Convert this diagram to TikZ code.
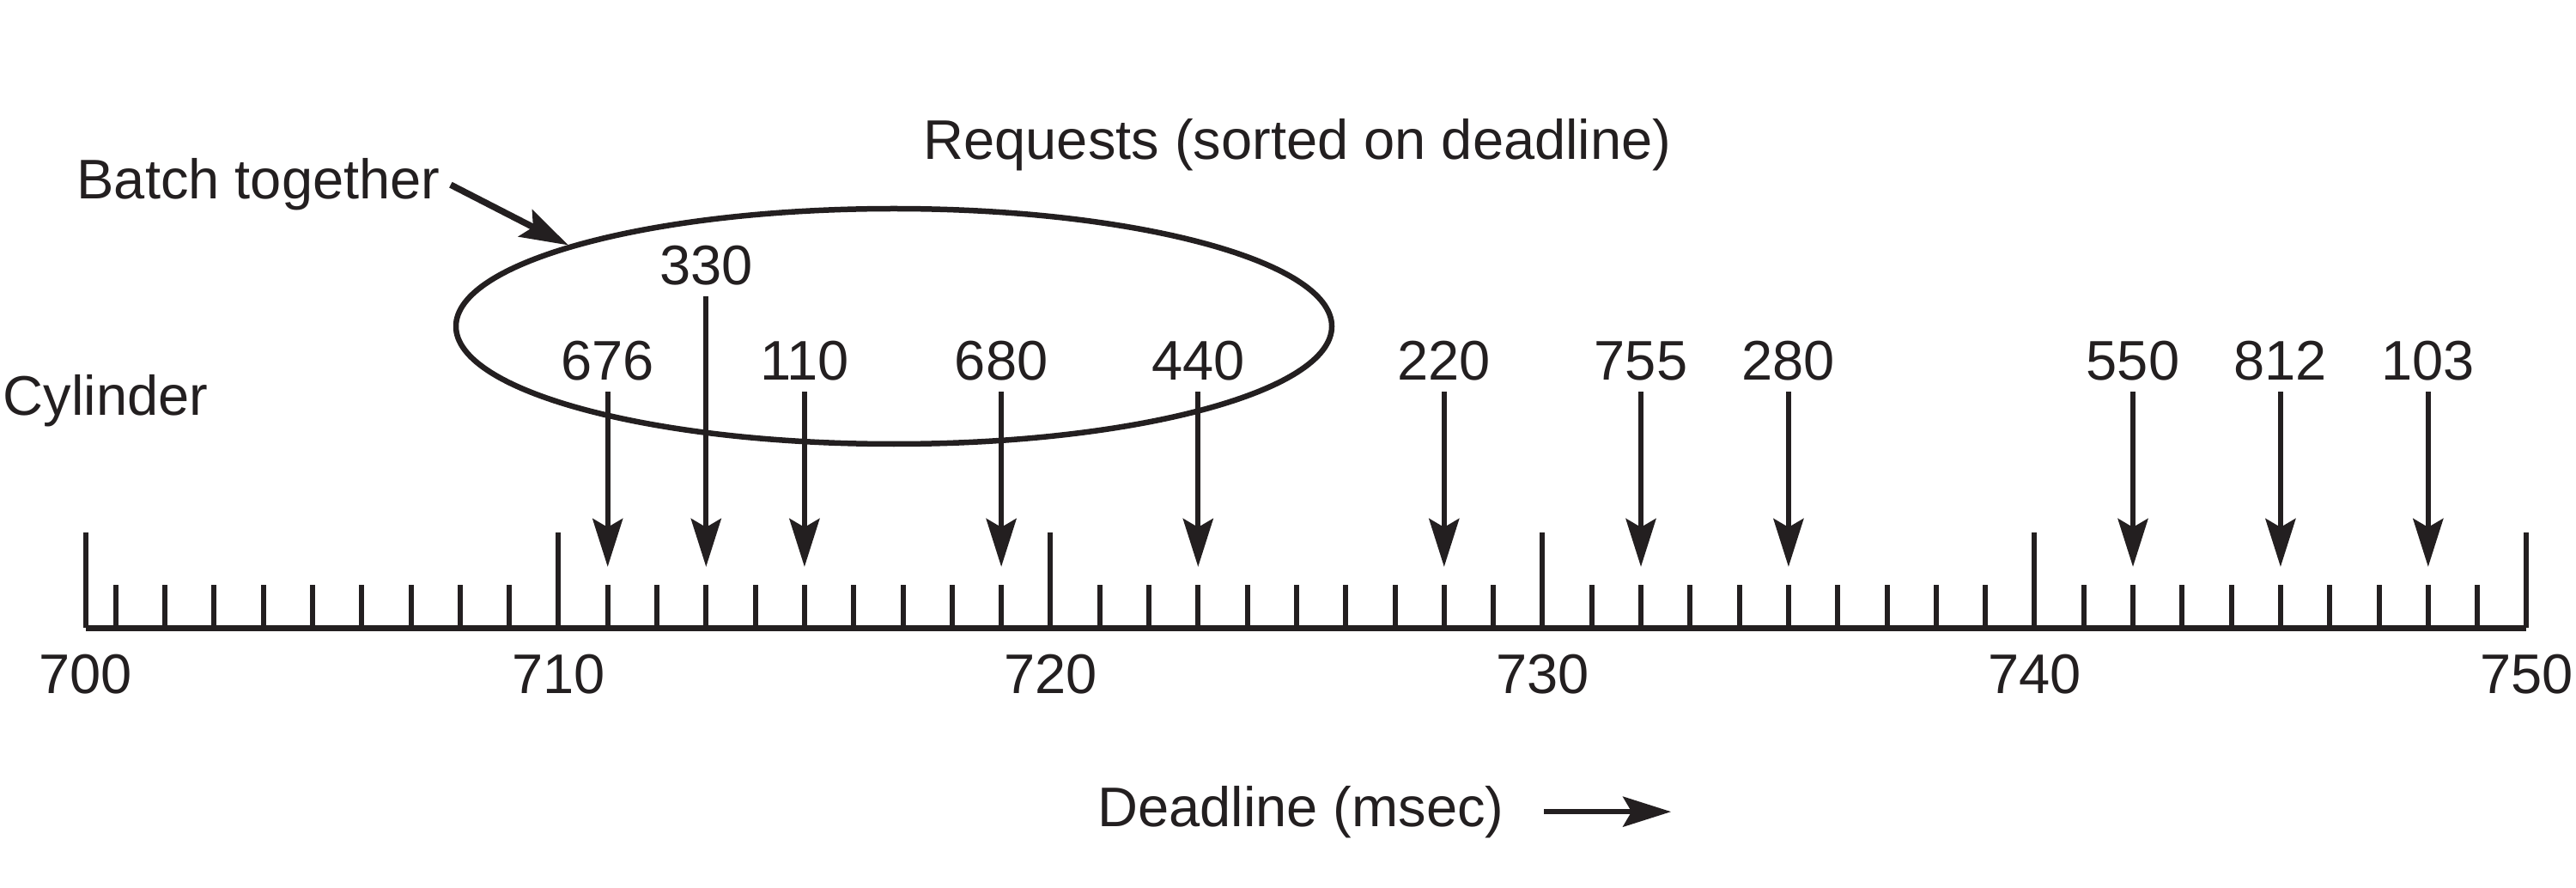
\documentclass[tikz,border=0pt]{standalone}
\usepackage{fontspec}
\setmainfont{Liberation Sans}
\usepackage{xcolor}
\usetikzlibrary{arrows.meta,shapes.geometric}
\definecolor{ink}{RGB}{35,31,32}

\begin{document}
\begin{tikzpicture}[x=1cm,y=1cm,
  every node/.style={font=\fontsize{18.5}{22}\selectfont, text=ink},
  tick/.style={draw=ink, line width=0.06cm},
  req/.style={draw=ink, line width=0.06cm, -{Stealth[length=5.6mm,width=3.5mm,inset=1mm]}},
  batchring/.style={draw=ink, line width=0.065cm, ellipse, minimum width=10.2cm, minimum height=2.74cm, inner sep=0pt}]
\useasboundingbox (0,0) rectangle (30,10.33);
\def\u{0.573}
\def\xo{0.774}
\def\xs{0.995}
\draw [tick, line width=0.07cm] (\xs,3.02) -- (\xo+50*\u,3.02);
\foreach \m in {1,...,49}
  \draw [tick] (\xo+\m*\u,3.02) -- ++(0,0.5);
\draw [tick] (\xs,3.02) -- ++(0,1.11);
\node [anchor=base] (d700) at (\xs,2.26) {700};
\foreach \m in {10,20,...,50}{
  \draw [tick] (\xo+\m*\u,3.02) -- ++(0,1.11);
  \pgfmathtruncatemacro\lab{700+\m}
  \node [anchor=base] (d\lab) at (\xo+\m*\u,2.26) {\lab};
}
\foreach \m/\cyl in {11/676,15/110,19/680,23/440,28/220,32/755,35/280,42/550,45/812,48/103}{
  \node [anchor=base] (c\cyl) at (\xo+\m*\u,5.90) {\cyl};
  \coordinate (h\cyl) at (\xo+\m*\u,3.73);
  \draw [req] (c\cyl) -- (h\cyl);
}
\node [anchor=base] (c330) at (\xo+13*\u,7.01) {330};
\coordinate (h330) at (\xo+13*\u,3.73);
\draw [req] (c330) -- (h330);
\node [batchring] (batch) at (10.41,6.53) {};
\node [anchor=base] (batchtxt) at (3.01,8.01) {Batch together};
\draw [req, line width=0.075cm] (batchtxt.east) -- (batch.166);
\node [anchor=base] (title) at (15.11,8.47) {Requests (sorted on deadline)};
\node [anchor=base west, inner sep=0pt] (cyl) at (0.03,5.50) {Cylinder};
\node [anchor=base] (dl) at (15.15,0.71) {Deadline (msec)};
\coordinate (dlend) at ([xshift=1.82cm]dl.east);
\draw [req] ([xshift=0.34cm]dl.east) -- (dlend);
\end{tikzpicture}
\end{document}
